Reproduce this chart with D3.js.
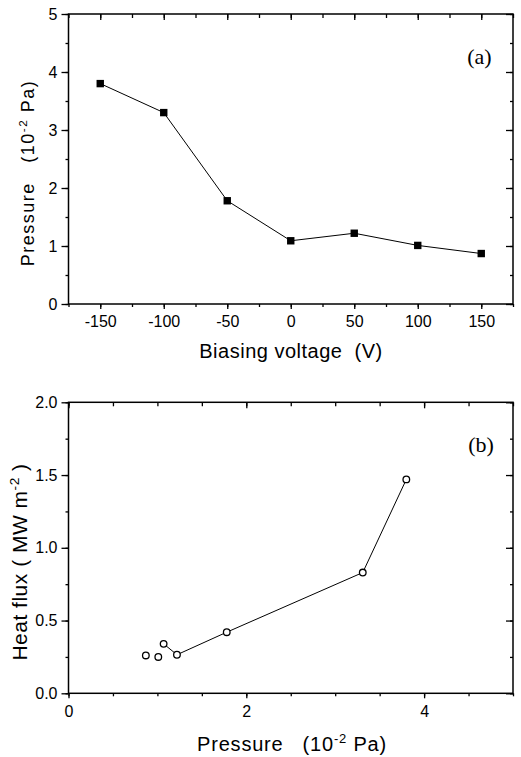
<!DOCTYPE html>
<head>
    <meta charset="utf-8">
    <script src="https://d3js.org/d3.v7.min.js"></script>
    <style>
        body { margin:0; background: white; }

        .axis text {
            font-family: 'Liberation Sans', Arial, sans-serif;
            font-size: 16px;
            fill: black;
        }
        .axis line, .axis path {
            stroke: black;
            stroke-width: 1.3;
        }
        .frame {
            fill: none;
            stroke: black;
            stroke-width: 1.5;
        }
        .line {
            fill: none;
            stroke: black;
            stroke-width: 1;
        }
        .marker--square { fill: black; }
        .marker--circle {
            fill: white;
            stroke: black;
            stroke-width: 1.3;
        }
        .axis-title {
            font-family: 'Liberation Sans', Arial, sans-serif;
            font-size: 20px;
        }
        .panel-label {
            font-family: 'Liberation Serif', 'Times New Roman', serif;
            font-size: 22px;
        }
    </style>
</head>

<body>
  <script>
    // panel (a): pressure vs biasing voltage
    const voltage = [-150, -100, -50, 0, 50, 100, 150];
    const pressure = [3.80, 3.30, 1.78, 1.09, 1.22, 1.01, 0.87];
    const aXTicks = [-150, -100, -50, 0, 50, 100, 150];
    const aYTicks = [0, 1, 2, 3, 4, 5];

    // panel (b): heat flux vs pressure
    const bPressureLinked = [1.07, 1.22, 1.78, 3.31, 3.80];
    const bFluxLinked = [0.34, 0.265, 0.42, 0.83, 1.47];
    const bPressureLoose = [0.87, 1.01];
    const bFluxLoose = [0.26, 0.25];
    const bXTicks = [0, 2, 4];
    const bYTicks = [0.0, 0.5, 1.0, 1.5, 2.0];

    const width = 521, height = 757;
    const left = 68.5, right = 513;

    const svg = d3.select('body').append('svg')
        .attr('width', width)
        .attr('height', height);

    function minorTicks(scale, step) {
        const [a, b] = scale.domain();
        const out = [];
        for (let v = a; v <= b + 1e-9; v += step) out.push(+v.toFixed(4));
        return out;
    }

    function drawFrame(x, y, opts) {
        const [y0, y1] = y.range();
        const g = svg.append('g');

        // minor ticks: out on bottom/left, in on top/right
        g.append('g').attr('class', 'axis')
            .attr('transform', `translate(0,${y0})`)
            .call(d3.axisBottom(x).tickValues(minorTicks(x, opts.xMinor)).tickSize(3).tickFormat(''));
        g.append('g').attr('class', 'axis')
            .attr('transform', `translate(0,${y1})`)
            .call(d3.axisBottom(x).tickValues(minorTicks(x, opts.xMinor)).tickSize(4).tickFormat(''));
        g.append('g').attr('class', 'axis')
            .attr('transform', `translate(${left},0)`)
            .call(d3.axisLeft(y).tickValues(minorTicks(y, opts.yMinor)).tickSize(3).tickFormat(''));
        g.append('g').attr('class', 'axis')
            .attr('transform', `translate(${right},0)`)
            .call(d3.axisLeft(y).tickValues(minorTicks(y, opts.yMinor)).tickSize(3).tickFormat(''));

        // major ticks, labelled on bottom and left
        g.append('g').attr('class', 'axis')
            .attr('transform', `translate(0,${y0})`)
            .call(d3.axisBottom(x).tickValues(opts.xTicks).tickSize(5).tickPadding(7).tickFormat(opts.xFormat));
        g.append('g').attr('class', 'axis')
            .attr('transform', `translate(0,${y1})`)
            .call(d3.axisBottom(x).tickValues(opts.xTicks).tickSize(6).tickFormat(''));
        g.append('g').attr('class', 'axis')
            .attr('transform', `translate(${left},0)`)
            .call(d3.axisLeft(y).tickValues(opts.yTicks).tickSize(7).tickPadding(4).tickFormat(opts.yFormat));
        g.append('g').attr('class', 'axis')
            .attr('transform', `translate(${right},0)`)
            .call(d3.axisLeft(y).tickValues(opts.yTicks).tickSize(7).tickFormat(''));

        g.selectAll('.domain').remove();

        g.append('rect')
            .attr('class', 'frame')
            .attr('x', left)
            .attr('y', y1)
            .attr('width', right - left)
            .attr('height', y0 - y1);
    }

    // title with a "-2" superscript in the middle
    function supTitle(before, after, transform, size, spacing) {
        const t = svg.append('text')
            .attr('class', 'axis-title')
            .attr('transform', transform)
            .attr('text-anchor', 'middle')
            .attr('xml:space', 'preserve')
            .style('font-size', size + 'px')
            .style('letter-spacing', spacing + 'px');
        t.append('tspan').text(before);
        t.append('tspan').attr('dy', -size * 0.4).style('font-size', (size * 0.65) + 'px').text('-2');
        t.append('tspan').attr('dy', size * 0.4).text(after);
        return t;
    }

    const plain = d => String(d);

    // ---- panel (a)
    const xA = d3.scaleLinear().domain([-175, 175]).range([left, right]);
    const yA = d3.scaleLinear().domain([0, 5]).range([304, 14]);

    drawFrame(xA, yA, {
        xMinor: 25, yMinor: 0.5,
        xTicks: aXTicks, yTicks: aYTicks,
        xFormat: plain, yFormat: plain
    });

    const dataA = voltage.map((v, i) => ({x: v, y: pressure[i]}));

    svg.append('path')
        .datum(dataA)
        .attr('class', 'line')
        .attr('d', d3.line().x(d => xA(d.x)).y(d => yA(d.y)));

    svg.append('g').selectAll('rect')
        .data(dataA)
        .enter().append('rect')
        .attr('class', 'marker--square')
        .attr('x', d => xA(d.x) - 3.7)
        .attr('y', d => yA(d.y) - 3.7)
        .attr('width', 7.4)
        .attr('height', 7.4);

    svg.append('text')
        .attr('class', 'axis-title')
        .attr('x', 291)
        .attr('y', 358)
        .attr('text-anchor', 'middle')
        .attr('xml:space', 'preserve')
        .style('letter-spacing', '0.5px')
        .text('Biasing voltage  (V)');

    supTitle('Pressure   (10', ' Pa)', 'translate(34,173) rotate(-90)', 18, 1.5);

    svg.append('text')
        .attr('class', 'panel-label')
        .attr('x', 479.5)
        .attr('y', 64)
        .attr('text-anchor', 'middle')
        .text('(a)');

    // ---- panel (b)
    const xB = d3.scaleLinear().domain([0, 5]).range([left, right]);
    const yB = d3.scaleLinear().domain([0, 2]).range([693.3, 402.3]);

    drawFrame(xB, yB, {
        xMinor: 0.5, yMinor: 0.25,
        xTicks: bXTicks, yTicks: bYTicks,
        xFormat: plain, yFormat: d3.format('.1f')
    });

    const linked = bPressureLinked.map((p, i) => ({x: p, y: bFluxLinked[i]}));
    const loose = bPressureLoose.map((p, i) => ({x: p, y: bFluxLoose[i]}));

    svg.append('path')
        .datum(linked)
        .attr('class', 'line')
        .attr('d', d3.line().x(d => xB(d.x)).y(d => yB(d.y)));

    svg.append('g').selectAll('circle')
        .data(linked.concat(loose))
        .enter().append('circle')
        .attr('class', 'marker--circle')
        .attr('cx', d => xB(d.x))
        .attr('cy', d => yB(d.y))
        .attr('r', 3.3);

    supTitle('Pressure   (10', ' Pa)', 'translate(292,751)', 20, 0.8);
    supTitle('Heat flux ( MW m', ' )', 'translate(27,562) rotate(-90)', 21, 0.5);

    svg.append('text')
        .attr('class', 'panel-label')
        .attr('x', 481)
        .attr('y', 452)
        .attr('text-anchor', 'middle')
        .text('(b)');
  </script>
</body>
